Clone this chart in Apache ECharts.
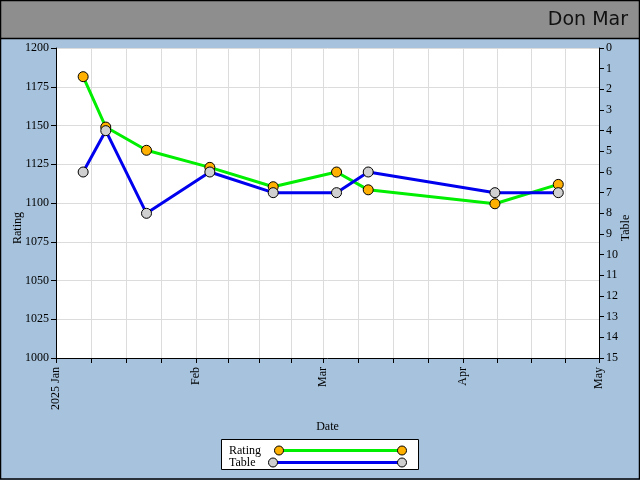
<!DOCTYPE html>
<html lang="en">
<head>
    <meta charset="UTF-8">
    <title>Don Mar</title>
    <script src="https://cdn.jsdelivr.net/npm/echarts@6/dist/echarts.min.js"></script>
    <style>
        html, body { margin: 0; padding: 0; background: #a6c2dc; }
        #main { width: 640px; height: 480px; }
    </style>
</head>
<body>
<div id="main"></div>
<script>
    // data
    var dates = ['2025-01-07', '2025-01-12', '2025-01-21', '2025-02-04', '2025-02-18',
                 '2025-03-04', '2025-03-11', '2025-04-08', '2025-04-22'];
    var rating = [1181.5, 1149, 1134, 1123, 1110.5, 1120, 1108.5, 1099.5, 1112];
    var table = [6, 4, 8, 6, 7, 7, 6, 7, 7];
    var monthLabels = ['2025 Jan', 'Feb', 'Mar', 'Apr', 'May'];
    var seriesNames = ['Rating', 'Table'];

    var serif = 'Liberation Serif';

    function toTime(s) {
        return new Date(s + 'T00:00:00').getTime();
    }

    // month starts Jan..May, ticks every quarter of a month
    var monthStarts = [];
    for (var m = 0; m < 5; m++) monthStarts.push(new Date(2025, m, 1).getTime());
    var quarterTicks = [];
    for (var i = 0; i < 4; i++) {
        var a = monthStarts[i], b = monthStarts[i + 1];
        for (var q = 0; q < 4; q++) quarterTicks.push(a + (b - a) * q / 4);
    }
    quarterTicks.push(monthStarts[4]);

    function pairs(ys) {
        return dates.map(function (d, k) { return [toTime(d), ys[k]]; });
    }

    var myChart = echarts.init(document.getElementById('main'));
    var option = {
        backgroundColor: '#a6c2dc',
        animation: false,
        grid: {
            left: 56, right: 41, top: 48, bottom: 122,
            containLabel: false,
            outerBoundsMode: 'none',
            show: true, backgroundColor: '#ffffff', borderWidth: 0
        },
        xAxis: {
            type: 'value',
            min: monthStarts[0],
            max: monthStarts[4],
            name: 'Date',
            nameLocation: 'middle',
            nameGap: 63,
            nameTextStyle: { fontFamily: serif, fontSize: 12, color: '#000' },
            axisLine: { onZero: false, lineStyle: { color: '#000', width: 1 } },
            axisTick: { show: true, inside: false, length: 5, customValues: quarterTicks, lineStyle: { color: '#000' } },
            splitLine: { show: true, lineStyle: { color: '#dcdcdc', width: 1 } },
            axisLabel: {
                customValues: monthStarts,
                rotate: 90,
                margin: 9,
                fontFamily: serif,
                fontSize: 12,
                color: '#000',
                formatter: function (v) {
                    var k = monthStarts.indexOf(v);
                    return k >= 0 ? monthLabels[k] : '';
                }
            }
        },
        yAxis: [{
            type: 'value',
            min: 1000, max: 1200, interval: 25,
            name: 'Rating',
            nameLocation: 'middle',
            nameRotate: 90,
            nameGap: 32,
            nameMoveOverlap: false,
            nameTextStyle: { fontFamily: serif, fontSize: 12, color: '#000', padding: [0, 50, 0, 0] },
            axisLine: { show: true, onZero: false, lineStyle: { color: '#000', width: 1 } },
            axisTick: { show: true, inside: false, length: 5, lineStyle: { color: '#000' } },
            splitLine: { show: true, lineStyle: { color: '#dcdcdc', width: 1 } },
            axisLabel: {
                margin: 7, fontFamily: serif, fontSize: 12, color: '#000',
                formatter: function (v) { return String(v); }
            }
        }, {
            type: 'value',
            position: 'right',
            min: 0, max: 15, interval: 1,
            inverse: true,
            name: 'Table',
            nameLocation: 'middle',
            nameRotate: 90,
            nameGap: 21,
            nameMoveOverlap: false,
            nameTextStyle: { fontFamily: serif, fontSize: 12, color: '#000', padding: [0, 50, 0, 0] },
            axisLine: { show: true, onZero: false, lineStyle: { color: '#000', width: 1 } },
            axisTick: { show: true, inside: false, length: 5, lineStyle: { color: '#000' } },
            splitLine: { show: false },
            axisLabel: {
                margin: 7, fontFamily: serif, fontSize: 12, color: '#000',
                formatter: function (v) { return String(v); }
            }
        }],
        series: [
            {
                name: seriesNames[0], type: 'line', data: pairs(rating),
                showSymbol: false, z: 2,
                lineStyle: { color: '#00ee00', width: 3 }
            },
            {
                name: seriesNames[1], type: 'line', yAxisIndex: 1, data: pairs(table),
                showSymbol: false, z: 2,
                lineStyle: { color: '#0000ee', width: 3 }
            },
            {
                name: seriesNames[0], type: 'scatter', data: pairs(rating),
                symbolSize: 10, z: 3,
                itemStyle: { color: '#ffb000', borderColor: '#000', borderWidth: 1, opacity: 1 }
            },
            {
                name: seriesNames[1], type: 'scatter', yAxisIndex: 1, data: pairs(table),
                symbolSize: 10, z: 3,
                itemStyle: { color: '#d0d0d0', borderColor: '#000', borderWidth: 1, opacity: 1 }
            }
        ],
        graphic: [
            // header band
            { type: 'rect', shape: { x: 0, y: 0, width: 640, height: 38 }, style: { fill: '#8e8e8e' }, z: 0 },
            { type: 'line', shape: { x1: 0, y1: 38.5, x2: 640, y2: 38.5 }, style: { stroke: '#000', lineWidth: 1.5 }, z: 1 },
            { type: 'text', x: 628, y: 20, style: { text: 'Don Mar', fill: '#111', font: '19px "DejaVu Sans"', align: 'right', verticalAlign: 'middle' }, z: 1 },
            // outer frame
            { type: 'rect', shape: { x: 0.5, y: 0.5, width: 639, height: 478.5 }, style: { fill: 'none', stroke: '#000', lineWidth: 1.5 }, z: 10 },
            // legend
            { type: 'rect', shape: { x: 221.5, y: 439.5, width: 197, height: 30 }, style: { fill: '#fff', stroke: '#000', lineWidth: 1 }, z: 5 },
            { type: 'text', x: 229, y: 451, style: { text: seriesNames[0], fill: '#000', font: '12px "Liberation Serif"', verticalAlign: 'middle' }, z: 6 },
            { type: 'text', x: 229, y: 463, style: { text: seriesNames[1], fill: '#000', font: '12px "Liberation Serif"', verticalAlign: 'middle' }, z: 6 },
            { type: 'line', shape: { x1: 279, y1: 450.5, x2: 402, y2: 450.5 }, style: { stroke: '#00ee00', lineWidth: 3 }, z: 6 },
            { type: 'line', shape: { x1: 273, y1: 462.5, x2: 402, y2: 462.5 }, style: { stroke: '#0000ee', lineWidth: 3 }, z: 6 },
            { type: 'circle', shape: { cx: 279, cy: 450.5, r: 4.5 }, style: { fill: '#ffb000', stroke: '#000', lineWidth: 1 }, z: 7 },
            { type: 'circle', shape: { cx: 402, cy: 450.5, r: 4.5 }, style: { fill: '#ffb000', stroke: '#000', lineWidth: 1 }, z: 7 },
            { type: 'circle', shape: { cx: 273, cy: 462.5, r: 4.5 }, style: { fill: '#d0d0d0', stroke: '#000', lineWidth: 1 }, z: 7 },
            { type: 'circle', shape: { cx: 402, cy: 462.5, r: 4.5 }, style: { fill: '#d0d0d0', stroke: '#000', lineWidth: 1 }, z: 7 }
        ]
    };
    myChart.setOption(option);
</script>
</body>
</html>
